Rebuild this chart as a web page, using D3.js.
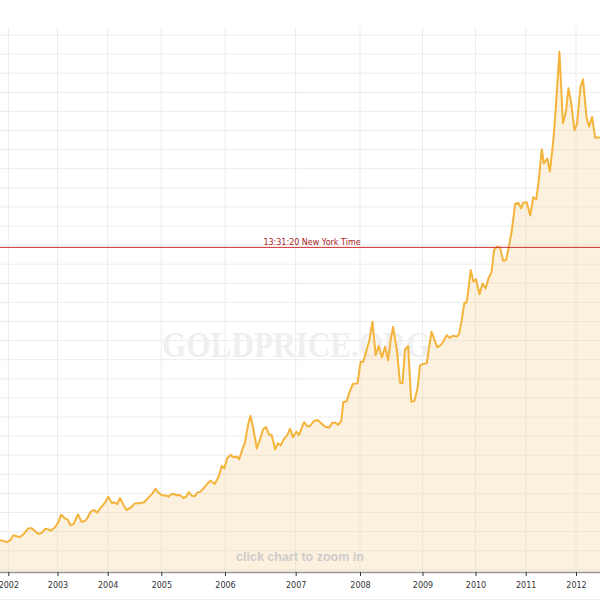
<!DOCTYPE html>
<html>
<head>
<meta charset="utf-8">
<script src="https://cdn.jsdelivr.net/npm/d3@7/dist/d3.min.js"></script>
<style>
  html, body { margin: 0; padding: 0; background: #fff; }
  svg { display: block; }
</style>
</head>
<body>
<div id="chart"></div>
<script>
// ---- data (gold price, USD/oz) ----
const years = [2002, 2003, 2004, 2005, 2006, 2007, 2008, 2009, 2010, 2011, 2012];
const tickLabels = ["2002", "2003", "2004", "2005", "2006", "2007", "2008", "2009", "2010", "2011", "2012"];
const dates = [
  2001.83, 2001.90, 2001.98, 2002.04, 2002.10, 2002.17, 2002.24, 2002.31, 2002.41, 2002.48, 2002.61, 2002.68, 2002.75, 2002.80, 2002.86, 2002.95,
  2003.02, 2003.07, 2003.15, 2003.20, 2003.26, 2003.32, 2003.41, 2003.48, 2003.55, 2003.59, 2003.66, 2003.73, 2003.79, 2003.86, 2003.95,
  2004.01, 2004.08, 2004.12, 2004.18, 2004.23, 2004.29, 2004.35, 2004.43, 2004.51, 2004.59, 2004.68, 2004.76, 2004.84, 2004.89, 2004.94,
  2005.01, 2005.09, 2005.11, 2005.16, 2005.20, 2005.24, 2005.29, 2005.35, 2005.39, 2005.43, 2005.48, 2005.53, 2005.57, 2005.61, 2005.64, 2005.69, 2005.77, 2005.84, 2005.90, 2005.95, 2005.99,
  2006.03, 2006.08, 2006.12, 2006.17, 2006.20, 2006.25, 2006.28, 2006.33, 2006.36, 2006.40, 2006.45, 2006.50, 2006.54, 2006.58, 2006.62, 2006.66, 2006.71, 2006.75, 2006.79, 2006.83, 2006.88, 2006.92, 2006.96,
  2007.01, 2007.05, 2007.13, 2007.18, 2007.22, 2007.29, 2007.34, 2007.40, 2007.46, 2007.52, 2007.57, 2007.62, 2007.66, 2007.71, 2007.74, 2007.79, 2007.84, 2007.89, 2007.96,
  2008.01, 2008.05, 2008.10, 2008.15, 2008.20, 2008.25, 2008.30, 2008.35, 2008.40, 2008.45, 2008.49, 2008.53, 2008.59, 2008.64, 2008.68, 2008.72, 2008.77, 2008.82, 2008.87, 2008.92, 2008.96,
  2009.00, 2009.08, 2009.17, 2009.24, 2009.28, 2009.36, 2009.46, 2009.51, 2009.57, 2009.65, 2009.69, 2009.74, 2009.79, 2009.83, 2009.86, 2009.91, 2009.96,
  2010.01, 2010.08, 2010.14, 2010.20, 2010.26, 2010.32, 2010.37, 2010.42, 2010.49, 2010.55, 2010.61, 2010.65, 2010.72, 2010.79, 2010.85, 2010.91, 2010.95,
  2011.02, 2011.09, 2011.15, 2011.21, 2011.26, 2011.32, 2011.36, 2011.43, 2011.48, 2011.55, 2011.60, 2011.67, 2011.74, 2011.80, 2011.85, 2011.90, 2011.97,
  2012.02, 2012.09, 2012.14, 2012.21, 2012.26, 2012.32, 2012.38, 2012.48, 2012.55
];
const prices = [
  297, 294, 291, 297, 313, 310, 307, 317, 336, 336, 317, 321, 334, 333, 328, 339,
  357, 380, 368, 365, 346, 350, 381, 357, 360, 368, 390, 396, 387, 403, 421,
  439, 418, 421, 415, 435, 414, 396, 403, 418, 418, 421, 436, 451, 465, 454,
  444, 442, 439, 448, 448, 444, 445, 435, 439, 454, 442, 441, 454, 455, 461, 474, 492, 481, 505, 540, 532,
  565, 576, 568, 570, 562, 597, 614, 679, 704, 663, 597, 630, 660, 667, 643, 641, 594, 614, 607, 627, 641, 662, 634,
  652, 641, 683, 670, 670, 688, 690, 679, 668, 666, 681, 681, 674, 688, 749, 751, 783, 808, 810,
  881, 880, 914, 952, 1012, 903, 932, 895, 930, 886, 952, 995, 919, 812, 810, 921, 932, 750, 752, 794, 868,
  873, 876, 979, 946, 928, 938, 968, 959, 966, 963, 971, 1017, 1074, 1074, 1107, 1181, 1143,
  1151, 1102, 1137, 1121, 1154, 1174, 1246, 1257, 1255, 1211, 1214, 1246, 1306, 1397, 1401, 1383, 1401,
  1403, 1359, 1419, 1412, 1475, 1576, 1530, 1546, 1503, 1606, 1715, 1895, 1661, 1699, 1776, 1732, 1639,
  1659, 1781, 1805, 1679, 1650, 1682, 1614, 1615, 1615
];
const currentPrice = 1255;
const currentLabel = "13:31:20 New York Time";
const gridValues = d3.range(200, 1951, 62.5);
const watermark = "GOLDPRICE.ORG";
const hint = "click chart to zoom in";

// ---- layout ----
const W = 600, H = 600;
const plotTop = 27, plotBottom = 572;

const svg = d3.select("#chart").append("svg")
  .attr("width", W).attr("height", H);

// x axis is piecewise (uneven year spacing in the original)
const x = d3.scaleLinear()
  .domain([2001, ...years, 2013])
  .range([-40.9, 8.3, 57.5, 107.7, 161.3, 225, 295.7, 360, 422.5, 475.5, 525.7, 576, 626.3]);
const y = d3.scaleLinear().domain([200, 1950]).range([569.8, 35]);

const data = dates.map((d, i) => ({ t: d, v: prices[i] }));

// gridlines
svg.append("g").selectAll("line").data(gridValues).join("line")
  .attr("x1", 0).attr("x2", W)
  .attr("y1", d => y(d)).attr("y2", d => y(d))
  .attr("stroke", "#ececec").attr("stroke-width", 1);
svg.append("g").selectAll("line").data(years).join("line")
  .attr("x1", d => x(d)).attr("x2", d => x(d))
  .attr("y1", plotTop).attr("y2", plotBottom)
  .attr("stroke", "#ececec").attr("stroke-width", 1);

// watermark
svg.append("text")
  .attr("x", 162).attr("y", 357)
  .attr("font-family", "Liberation Serif, serif")
  .attr("font-weight", "bold")
  .attr("font-size", 36)
  .attr("textLength", 268)
  .attr("lengthAdjust", "spacingAndGlyphs")
  .attr("fill", "#efefef")
  .text(watermark);

// area + line
const area = d3.area().x(d => x(d.t)).y0(plotBottom).y1(d => y(d.v));
const line = d3.line().x(d => x(d.t)).y(d => y(d.v));

svg.append("path").datum(data)
  .attr("d", area)
  .attr("fill", "rgb(245,215,160)")
  .attr("fill-opacity", 0.35);

svg.append("path").datum(data)
  .attr("d", line)
  .attr("fill", "none")
  .attr("stroke", "#f4b43c")
  .attr("stroke-width", 2)
  .attr("stroke-linejoin", "round");

// current price line
svg.append("line")
  .attr("x1", 0).attr("x2", W)
  .attr("y1", y(currentPrice)).attr("y2", y(currentPrice))
  .attr("stroke", "#cc3333").attr("stroke-width", 1);
svg.append("text")
  .attr("x", 312).attr("y", y(currentPrice) - 2.6)
  .attr("text-anchor", "middle")
  .attr("font-family", "DejaVu Sans, sans-serif")
  .attr("font-size", 8)
  .attr("fill", "#a31b1b")
  .text(currentLabel);

// hint text
svg.append("text")
  .attr("x", 300).attr("y", 561)
  .attr("text-anchor", "middle")
  .attr("font-family", "Liberation Sans, Arial, sans-serif")
  .attr("font-weight", "bold")
  .attr("font-size", 12.5)
  .attr("fill", "#cccccc")
  .text(hint);

// x axis
const axis = d3.axisBottom(x)
  .tickValues(years)
  .tickFormat((d, i) => tickLabels[i])
  .tickSize(4)
  .tickSizeOuter(0)
  .tickPadding(6);
const gx = svg.append("g").attr("transform", `translate(0,${plotBottom})`).call(axis);
gx.select(".domain").attr("stroke", "#999").attr("stroke-width", 1.5);
gx.selectAll(".tick line").attr("stroke", "#333");
gx.selectAll(".tick text")
  .attr("font-family", "DejaVu Sans, sans-serif")
  .attr("font-size", 8)
  .attr("fill", "#333");

// faint bottom border
svg.append("line")
  .attr("x1", 0).attr("x2", W).attr("y1", 599.5).attr("y2", 599.5)
  .attr("stroke", "#eeeeee").attr("stroke-width", 1);
</script>
</body>
</html>
